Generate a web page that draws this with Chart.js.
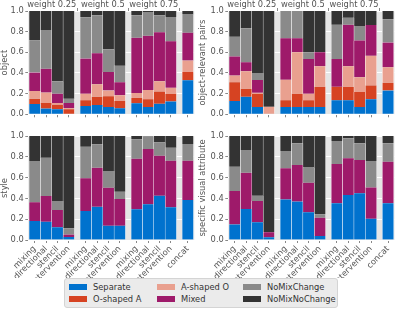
<!DOCTYPE html>
<html><head><meta charset="utf-8">
<script src="https://cdn.jsdelivr.net/npm/chart.js@4.4.0/dist/chart.umd.min.js"></script>
<style>
html,body{margin:0;padding:0;background:#fff;width:397px;height:310px;overflow:hidden;}
canvas{position:absolute;}
#legend{position:absolute;left:64px;top:278px;width:274px;height:30px;background:#ebebeb;border:1px solid #d4d4d4;border-radius:3px;box-sizing:border-box;font-family:'DejaVu Sans';font-size:8.3px;color:#333;}
.sw{position:absolute;width:18px;height:6px;}
.lt{position:absolute;line-height:10px;white-space:nowrap;}
</style></head><body>
<canvas id="c1" width="198" height="129" style="left:0;top:-4px"></canvas>
<canvas id="c2" width="199" height="129" style="left:198px;top:-4px"></canvas>
<canvas id="c3" width="198" height="153" style="left:0;top:125px"></canvas>
<canvas id="c4" width="199" height="153" style="left:198px;top:125px"></canvas>
<div id="legend"></div>
<script>
const POS = [0,1,2,3,4.5,5.5,6.5,7.5,9,10,11,12,13.5];
const BAR_LABELS = ['mixing','directional','stencil','intervention','mixing','directional','stencil','intervention','mixing','directional','stencil','intervention','concat'];
const GROUP_POS = [1.5, 6, 10.5];
const GROUP_LABELS = ['weight 0.25','weight 0.5','weight 0.75'];
const CATEGORIES = ['Separate','O-shaped A','A-shaped O','Mixed','NoMixChange','NoMixNoChange'];
const COLORS = ['#0072ce','#d64322','#e9a08f','#9e1a6a','#8a8a8a','#333333'];

// object
const OBJ_SEPARATE = [0.10,0.055,0.048,0.0,0.08,0.09,0.07,0.058,0.106,0.07,0.103,0.125,0.33];
const OBJ_OSHAPED  = [0.05,0.055,0.045,0.048,0.055,0.08,0.105,0.072,0.054,0.075,0.117,0.075,0.08];
const OBJ_ASHAPED  = [0.075,0.10,0.017,0.01,0.065,0.12,0.055,0.055,0.045,0.09,0.10,0.056,0.11];
const OBJ_MIXED    = [0.18,0.23,0.09,0.052,0.34,0.30,0.18,0.125,0.535,0.525,0.475,0.45,0.27];
const OBJ_NMC      = [0.31,0.375,0.12,0.04,0.40,0.37,0.22,0.16,0.22,0.225,0.165,0.235,0.175];
const OBJ_NMNC     = [0.285,0.185,0.68,0.85,0.06,0.04,0.37,0.53,0.04,0.015,0.04,0.059,0.035];
// object-relevant pairs
const PAIR_SEPARATE = [0.128,0.17,0.07,0,0.07,0.07,0.07,0.07,0.135,0.135,0.07,0.145,0.23];
const PAIR_OSHAPED  = [0.182,0.077,0.13,0,0.065,0.13,0.065,0.197,0.132,0.132,0.145,0.135,0.075];
const PAIR_ASHAPED  = [0.065,0.17,0.008,0.073,0.20,0.40,0.065,0.198,0,0.198,0.144,0.287,0.15];
const PAIR_MIXED    = [0.185,0.086,0.125,0,0.40,0.135,0.335,0.135,0.268,0.402,0.356,0.298,0.24];
const PAIR_NMC      = [0.19,0.33,0.067,0,0.265,0.265,0.065,0,0.332,0.068,0.141,0,0.225];
const PAIR_NMNC     = [0.25,0.167,0.60,0.927,0,0,0.40,0.40,0.133,0.065,0.144,0.135,0.08];
// style
const STY_SEPARATE = [0.183,0.176,0.122,0.03,0.279,0.32,0.138,0.138,0.295,0.343,0.426,0.314,0.385];
const STY_OSHAPED  = [0,0,0,0,0,0,0,0,0,0,0,0,0];
const STY_ASHAPED  = [0,0,0,0,0,0,0,0,0,0,0,0,0];
const STY_MIXED    = [0.179,0.247,0.166,0.022,0.314,0.375,0.365,0.256,0.487,0.532,0.385,0.449,0.378];
const STY_NMC      = [0.398,0.367,0.087,0.06,0.304,0.225,0.16,0.071,0.186,0.119,0.128,0.125,0.16];
const STY_NMNC     = [0.24,0.21,0.625,0.888,0.103,0.08,0.337,0.535,0.032,0.006,0.061,0.112,0.077];
// specific visual attribute
const SPEC_SEPARATE = [0.15,0.298,0.17,0.026,0.39,0.369,0.266,0.038,0.353,0.433,0.449,0.205,0.353];
const SPEC_OSHAPED  = [0,0,0,0,0,0,0,0,0,0,0,0,0];
const SPEC_ASHAPED  = [0,0,0,0,0,0,0,0,0,0,0,0,0];
const SPEC_MIXED    = [0.32,0.349,0.205,0.048,0.30,0.351,0.285,0.177,0.378,0.352,0.32,0.301,0.40];
const SPEC_NMC      = [0.235,0.218,0.051,0,0.166,0.21,0.145,0.032,0.221,0.193,0.161,0.254,0.177];
const SPEC_NMNC     = [0.295,0.135,0.574,0.926,0.144,0.07,0.304,0.753,0.048,0.022,0.07,0.24,0.07];

const FONT = {family:'DejaVu Sans', size:8.3};
const bgPlugin = {id:'bg', beforeDraw(chart){
  const {ctx, chartArea:a} = chart;
  ctx.save(); ctx.fillStyle = '#e5e5e5';
  ctx.fillRect(a.left, a.top, a.right-a.left, a.bottom-a.top);
  ctx.restore();
}};

function makeChart(id, title, series, o){
  const datasets = series.map((vals,i)=>({
    label: CATEGORIES[i],
    data: vals.map((v,j)=>({x:POS[j], y: v===0 ? null : v})),
    backgroundColor: COLORS[i],
    borderColor: '#ffffff',
    borderWidth: {left:0.5, right:0.5, top:0, bottom:0},
    borderSkipped: false,
    barPercentage: 1,
    categoryPercentage: 1
  }));
  const scales = {
    x: {type:'linear', stacked:true, min:-0.57, max:14.07, offset:false,
      afterBuildTicks: ax => { ax.ticks = POS.map(v => ({value:v})); },
      afterFit: ax => { ax.height = o.bottomH; },
      grid: {drawOnChartArea:false, drawTicks:true, tickLength:3, tickColor:'#888', offset:false},
      border: {display:false},
      ticks: {autoSkip:false, maxRotation:45, minRotation:45, padding:1, color:'#555', font:FONT,
        callback: (v,i) => o.labels ? BAR_LABELS[i] : ''}
    },
    y: {stacked:true, min:0, max:1,
      afterFit: ax => { ax.width = o.yW; },
      ticks: {stepSize:0.2, padding:1.5, color:'#555', font:FONT, callback: v => Number(v).toFixed(1)},
      grid: {color:'#ffffff', lineWidth:1, drawTicks:true, tickLength:3, tickColor:'#888'},
      border: {display:false},
      title: {display:true, text:title, color:'#555', font:FONT, padding:{top:0,bottom:0}}
    }
  };
  if (o.top) {
    scales.x2 = {type:'linear', position:'top', min:-0.57, max:14.07, offset:false,
      afterBuildTicks: ax => { ax.ticks = GROUP_POS.map(v => ({value:v})); },
      afterFit: ax => { ax.height = o.topH; },
      grid: {drawOnChartArea:false, drawTicks:true, tickLength:3, tickColor:'#888'},
      border: {display:false},
      ticks: {autoSkip:false, maxRotation:0, minRotation:0, padding:-1.5, color:'#555', font:FONT,
        callback: (v,i) => GROUP_LABELS[i]}
    };
  }
  new Chart(document.getElementById(id), {
    type:'bar',
    data:{datasets},
    options:{responsive:false, animation:false, devicePixelRatio:1,
      layout:{padding:{left:0, right:o.rightPad, top:o.padTop, bottom:0}},
      plugins:{legend:{display:false}, tooltip:{enabled:false}},
      scales},
    plugins:[bgPlugin]
  });
}

makeChart('c1','object',[OBJ_SEPARATE,OBJ_OSHAPED,OBJ_ASHAPED,OBJ_MIXED,OBJ_NMC,OBJ_NMNC],
  {top:true, labels:false, yW:28.3, rightPad:3.7, topH:15, bottomH:10.7, padTop:0});
makeChart('c2','object-relevant pairs',[PAIR_SEPARATE,PAIR_OSHAPED,PAIR_ASHAPED,PAIR_MIXED,PAIR_NMC,PAIR_NMNC],
  {top:true, labels:false, yW:30.3, rightPad:2.5, topH:15, bottomH:10.7, padTop:0});
makeChart('c3','style',[STY_SEPARATE,STY_OSHAPED,STY_ASHAPED,STY_MIXED,STY_NMC,STY_NMNC],
  {top:false, labels:true, yW:28.3, rightPad:3.7, bottomH:38, padTop:11});
makeChart('c4','specific visual attribute',[SPEC_SEPARATE,SPEC_OSHAPED,SPEC_ASHAPED,SPEC_MIXED,SPEC_NMC,SPEC_NMNC],
  {top:false, labels:true, yW:30.3, rightPad:2.5, bottomH:38, padTop:11});

// legend (HTML, column-major like matplotlib ncol=3)
const LEG_COLS_X = [4, 92, 178];
const LEG_ROWS_Y = [5, 17];
const leg = document.getElementById('legend');
CATEGORIES.forEach((name, i) => {
  const col = Math.floor(i/2), row = i%2;
  const sw = document.createElement('div');
  sw.className = 'sw';
  sw.style.left = LEG_COLS_X[col] + 'px';
  sw.style.top = LEG_ROWS_Y[row] + 'px';
  sw.style.background = COLORS[i];
  leg.appendChild(sw);
  const t = document.createElement('div');
  t.className = 'lt';
  t.style.left = (LEG_COLS_X[col] + 24) + 'px';
  t.style.top = (LEG_ROWS_Y[row] - 2) + 'px';
  t.textContent = name;
  leg.appendChild(t);
});
</script>
</body></html>
